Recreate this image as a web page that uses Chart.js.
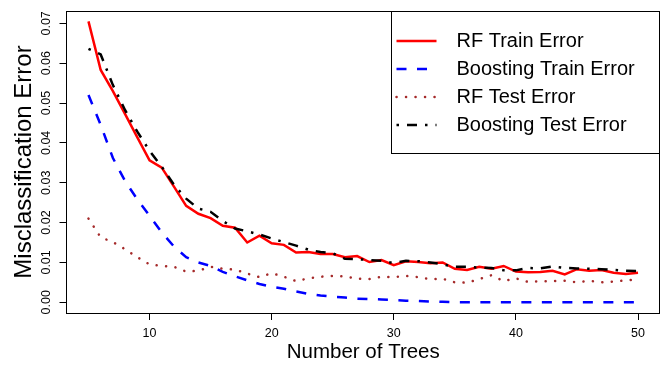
<!DOCTYPE html>
<html>
<head>
<meta charset="utf-8">
<script src="https://cdn.jsdelivr.net/npm/chart.js@4.4.0/dist/chart.umd.min.js"></script>
<style>
   html, body { margin: 0; padding: 0; background: #fff; }
   canvas { display: block; }
</style>
</head>
<body>
<canvas id="chartErrors" width="669" height="365"></canvas>
<script>
const numTrees = [5, 6, 7, 8, 9, 10, 11, 12, 13, 14, 15, 16, 17, 18, 19, 20, 21, 22, 23, 24, 25, 26, 27,
   28, 29, 30, 31, 32, 33, 34, 35, 36, 37, 38, 39, 40, 41, 42, 43, 44, 45, 46, 47, 48, 49, 50];

const rfTrainError = [0.0705, 0.0583, 0.0530, 0.0472, 0.0414, 0.0356, 0.0338, 0.0290, 0.0242, 0.0222,
   0.0211, 0.0192, 0.0187, 0.0150, 0.0167, 0.0148, 0.0144, 0.0125, 0.0126, 0.0121, 0.0121, 0.0113,
   0.0116, 0.0101, 0.0106, 0.0093, 0.0103, 0.0101, 0.0098, 0.0100, 0.0084, 0.0081, 0.0089, 0.0084,
   0.0091, 0.0077, 0.0075, 0.0076, 0.0079, 0.0070, 0.0083, 0.0079, 0.0081, 0.0074, 0.0071, 0.0074];

const boostingTrainError = [0.0520, 0.0445, 0.0362, 0.0304, 0.0258, 0.0217, 0.0175, 0.0140, 0.0113, 0.0100,
   0.0091, 0.0076, 0.0065, 0.0055, 0.0046, 0.0039, 0.0034, 0.0027, 0.0021, 0.0017, 0.0014, 0.0012,
   0.0009, 0.0008, 0.0007, 0.0006, 0.0004, 0.0003, 0.0002, 0.0001, 0, 0, 0, 0,
   0, 0, 0, 0, 0, 0, 0, 0, 0, 0, 0, 0];

const rfTestError = [0.0210, 0.0163, 0.0151, 0.0133, 0.0113, 0.0095, 0.0091, 0.0089, 0.0077, 0.0079,
   0.0089, 0.0084, 0.0082, 0.0072, 0.0063, 0.0073, 0.0064, 0.0053, 0.0060, 0.0064, 0.0066, 0.0065,
   0.0059, 0.0058, 0.0064, 0.0063, 0.0066, 0.0063, 0.0058, 0.0059, 0.0050, 0.0049, 0.0058, 0.0068,
   0.0053, 0.0060, 0.0051, 0.0053, 0.0053, 0.0054, 0.0050, 0.0054, 0.0050, 0.0052, 0.0055, 0.0057];

const boostingTestError = [0.0636, 0.0622, 0.0545, 0.0482, 0.0428, 0.0380, 0.0340, 0.0295, 0.0260, 0.0235,
   0.0227, 0.0204, 0.0185, 0.0178, 0.0170, 0.0160, 0.0151, 0.0142, 0.0132, 0.0126, 0.0123, 0.0109,
   0.0108, 0.0106, 0.0104, 0.0098, 0.0104, 0.0103, 0.0100, 0.0095, 0.0089, 0.0089, 0.0087, 0.0086,
   0.0080, 0.0080, 0.0086, 0.0085, 0.0090, 0.0086, 0.0085, 0.0084, 0.0083, 0.0081, 0.0079, 0.0078];

const xTickValues = [10, 20, 30, 40, 50];
const yTickValues = [0, 0.01, 0.02, 0.03, 0.04, 0.05, 0.06, 0.07];
const seriesNames = ['RF Train Error', 'Boosting Train Error', 'RF Test Error', 'Boosting Test Error'];

const FONT = "'Liberation Sans', Arial, Helvetica, sans-serif";
const toPoints = values => values.map((v, i) => ({ x: numTrees[i], y: v }));
const px = p => Math.round(p - 0.5) + 0.5;

// box around the plot region (R bty="o")
const framePlugin = {
   id: 'frame',
   afterDraw(chart) {
      const { ctx, chartArea: a } = chart;
      ctx.save();
      ctx.strokeStyle = '#000';
      ctx.lineWidth = 1;
      ctx.strokeRect(px(a.left), px(a.top + 0.5), px(a.right - 0.5) - px(a.left), px(a.bottom + 0.5) - px(a.top + 0.5));
      ctx.restore();
   }
};

// framed legend in the top right corner, like R's legend("topright", ...)
const boxLegendPlugin = {
   id: 'boxLegend',
   afterDraw(chart) {
      const { ctx, chartArea: a } = chart;
      const left = 391.5, top = px(a.top + 0.5), right = px(a.right - 0.5), bottom = 153.5;
      ctx.save();
      ctx.fillStyle = '#fff';
      ctx.fillRect(left, top, right - left, bottom - top);
      ctx.strokeStyle = '#000';
      ctx.lineWidth = 1;
      ctx.strokeRect(left, top, right - left, bottom - top);
      chart.data.datasets.forEach((ds, i) => {
         const y = top + 29.5 + i * 28;
         ctx.beginPath();
         ctx.setLineDash(ds.borderDash || []);
         ctx.lineCap = ds.borderCapStyle || 'butt';
         ctx.strokeStyle = ds.borderColor;
         ctx.lineWidth = ds.borderWidth;
         ctx.moveTo(left + 5, y);
         ctx.lineTo(left + 45, y);
         ctx.stroke();
         ctx.setLineDash([]);
         ctx.fillStyle = '#000';
         ctx.font = `20px ${FONT}`;
         ctx.textBaseline = 'middle';
         ctx.textAlign = 'left';
         ctx.fillText(ds.label, left + 65, y);
      });
      ctx.restore();
   }
};

const ctx = document.getElementById('chartErrors').getContext('2d');
const chartErrors = new Chart(ctx, {
   type: 'line',
   data: {
      datasets: [
         {
            label: seriesNames[0],
            data: toPoints(rfTrainError),
            borderColor: '#ff0000',
            borderWidth: 2.5,
            order: 4,
         },
         {
            label: seriesNames[1],
            data: toPoints(boostingTrainError),
            borderColor: '#0000ff',
            borderWidth: 2.5,
            borderDash: [10, 10.5],
            order: 3,
         },
         {
            label: seriesNames[2],
            data: toPoints(rfTestError),
            borderColor: '#a52a2a',
            borderWidth: 2.5,
            borderDash: [0.1, 9.4],
            borderCapStyle: 'round',
            order: 2,
         },
         {
            label: seriesNames[3],
            data: toPoints(boostingTestError),
            borderColor: '#000000',
            borderWidth: 2.5,
            borderDash: [2.5, 8, 10, 8],
            order: 1,
         }
      ]
   },
   options: {
      responsive: false,
      animation: false,
      devicePixelRatio: 1,
      layout: { padding: { top: 11, right: 9, left: 0, bottom: 0 } },
      elements: {
         point: { radius: 0 },
         line: { tension: 0, fill: false }
      },
      scales: {
         x: {
            type: 'linear',
            min: 3.2,
            max: 51.8,
            afterBuildTicks: scale => { scale.ticks = xTickValues.map(v => ({ value: v })); },
            afterFit: scale => { scale.height = 52; },
            grid: { drawOnChartArea: false, drawTicks: true, tickLength: 7, color: '#000' },
            border: { display: false },
            ticks: {
               color: '#000',
               padding: 6,
               maxRotation: 0,
               autoSkip: false,
               font: { family: FONT, size: 12.5 },
               callback: value => String(value),
            },
            title: {
               display: true,
               text: 'Number of Trees',
               color: '#000',
               font: { family: FONT, size: 20.5 },
               padding: { top: 0, bottom: 0 },
            }
         },
         y: {
            type: 'linear',
            min: -0.0027,
            max: 0.0731,
            afterBuildTicks: scale => { scale.ticks = yTickValues.map(v => ({ value: v })); },
            afterFit: scale => { scale.width = 66.5; },
            grid: { drawOnChartArea: false, drawTicks: true, tickLength: 7, color: '#000' },
            border: { display: false },
            ticks: {
               color: '#000',
               padding: 1,
               minRotation: 90,
               maxRotation: 90,
               crossAlign: 'center',
               autoSkip: false,
               font: { family: FONT, size: 12.5 },
               callback: value => value.toFixed(2),
            },
            title: {
               display: true,
               text: 'Misclassification Error',
               color: '#000',
               font: { family: FONT, size: 24 },
               padding: { top: 10, bottom: 0 },
            }
         }
      },
      plugins: {
         legend: { display: false },
         tooltip: { enabled: false },
      }
   },
   plugins: [framePlugin, boxLegendPlugin]
});
</script>
</body>
</html>
